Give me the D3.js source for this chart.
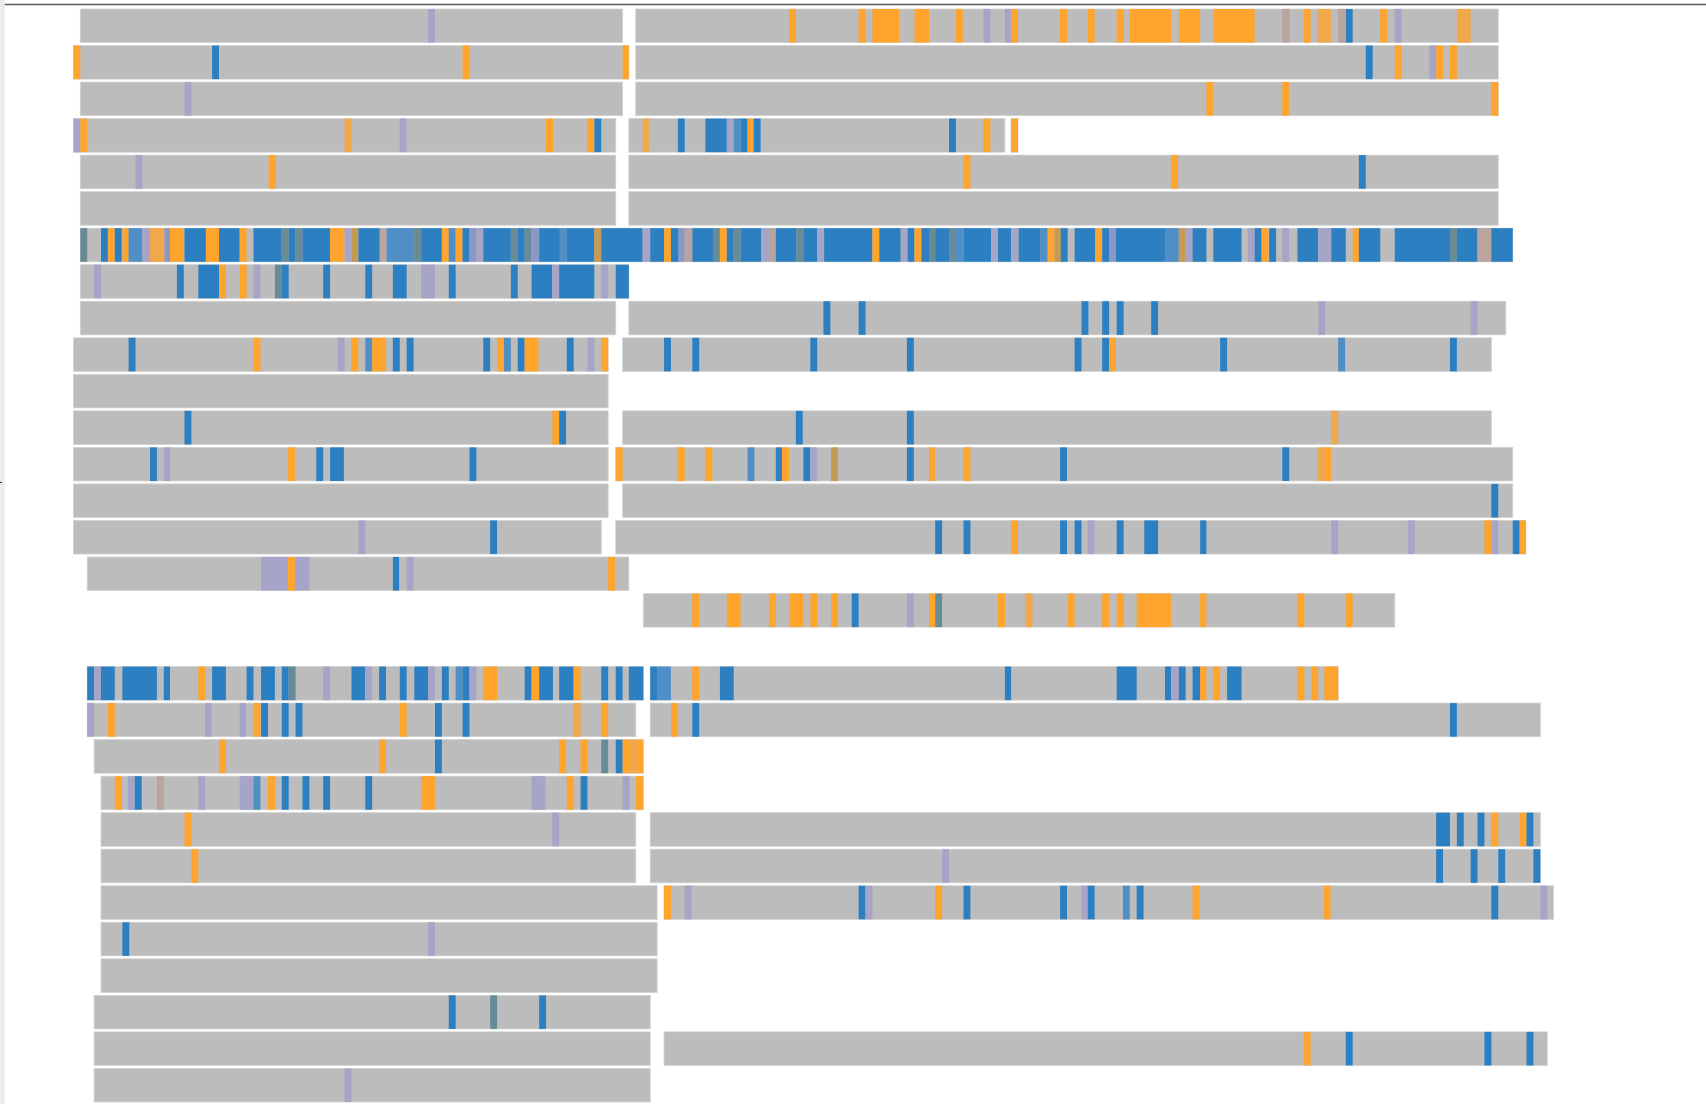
<!DOCTYPE html>
<html>
<head>
<meta charset="utf-8">
<script src="https://cdn.jsdelivr.net/npm/d3@7"></script>
<style>
  body { margin: 0; background: #fff; }
  svg { display: block; }
</style>
</head>
<body>
<div id="chartDiv"></div>
<script>
var W = 1706
var H = 1104

// row ids (row 17 is empty)
var rows = d3.range(30)

// feature categories and their colours
var categories = ["o", "O", "b", "B", "p", "t", "n", "r", "q"]
var catColors = ["#ffa42c", "#f0a84a", "#2c80c2", "#4f8fc6", "#a6a5c8", "#688b96", "#c69a55", "#b9a49e", "#8b97c4"]

// segments: [row, start, end] in bins
var segments = [
  [0, 1.0, 79.6], [0, 81.5, 206.5],
  [1, 0.0, 80.5], [1, 81.5, 206.5],
  [2, 1.0, 79.6], [2, 81.5, 206.5],
  [3, 0.0, 78.6], [3, 80.5, 135.0], [3, 135.9, 136.9],
  [4, 1.0, 78.6], [4, 80.5, 206.5],
  [5, 1.0, 78.6], [5, 80.5, 206.5],
  [6, 1.0, 208.6],
  [7, 1.0, 80.5],
  [8, 1.0, 78.6], [8, 80.5, 207.6],
  [9, 0.0, 77.5], [9, 79.6, 205.5],
  [10, 0.0, 77.5],
  [11, 0.0, 77.5], [11, 79.6, 205.5],
  [12, 0.0, 77.5], [12, 78.6, 208.6],
  [13, 0.0, 77.5], [13, 79.6, 208.6],
  [14, 0.0, 76.5], [14, 78.6, 210.5],
  [15, 2.0, 80.5],
  [16, 82.6, 191.5],
  [18, 2.0, 82.6], [18, 83.6, 183.3],
  [19, 2.0, 81.5], [19, 83.6, 212.6],
  [20, 3.0, 82.6],
  [21, 4.0, 82.6],
  [22, 4.0, 81.5], [22, 83.6, 212.6],
  [23, 4.0, 81.5], [23, 83.6, 212.6],
  [24, 4.0, 84.6], [24, 85.6, 214.5],
  [25, 4.0, 84.6],
  [26, 4.0, 84.6],
  [27, 3.0, 83.6],
  [28, 3.0, 83.6], [28, 85.6, 213.6],
  [29, 3.0, 83.6]
]

// features, upper block: [row, start, width, category]
var marksTop = [
  [0,51.4,1,"p"],[0,103.7,1,"o"],[0,113.8,1,"o"],[0,115.8,3.9,"o"],[0,121.9,2.1,"o"],[0,127.9,1,"o"],[0,131.9,1,"p"],
  [0,135.0,0.9,"p"],[0,135.9,1,"o"],[0,143.0,1,"o"],[0,147.0,1,"o"],[0,151.2,1,"o"],[0,153.1,6,"o"],[0,160.2,3.1,"o"],
  [0,165.2,6,"o"],[0,175.2,1.1,"r"],[0,178.3,1,"o"],[0,180.4,1.9,"O"],[0,183.3,1,"r"],[0,184.4,1,"b"],[0,189.4,1,"o"],
  [0,191.5,1,"p"],[0,200.5,2,"O"],
  [1,0,1,"o"],[1,20.1,1,"b"],[1,56.4,1,"o"],[1,79.6,0.9,"o"],[1,187.3,1,"b"],[1,191.5,1,"o"],[1,196.5,1,"p"],
  [1,197.5,1,"o"],[1,199.5,1,"o"],
  [2,16.1,1,"p"],[2,164.2,1,"o"],[2,175.2,1,"o"],[2,205.5,1,"o"],
  [3,0,1,"p"],[3,1,1,"o"],[3,39.3,1,"O"],[3,47.3,1,"p"],[3,68.5,1,"o"],[3,74.5,1,"o"],[3,75.5,1,"b"],[3,82.5,1,"O"],
  [3,87.6,1,"b"],[3,91.6,3.1,"b"],[3,94.7,1,"p"],[3,95.7,1,"B"],[3,96.7,1,"b"],[3,97.7,0.9,"o"],[3,98.6,1,"b"],
  [3,126.9,1,"b"],[3,131.9,1,"o"],[3,135.9,1,"o"],
  [4,9.0,1,"p"],[4,28.3,1,"o"],[4,129.0,1,"o"],[4,159.1,1,"o"],[4,186.3,1,"b"],
  [6,1,1,"t"],[6,4,1,"b"],[6,5,1,"o"],[6,6,1,"b"],[6,7.1,0.9,"o"],[6,8,2,"B"],[6,10,1.1,"p"],[6,11.1,2.1,"O"],
  [6,13.2,0.8,"q"],[6,14,2,"o"],[6,16.1,3.1,"b"],[6,19.2,1.9,"o"],[6,21.1,3,"b"],[6,24.1,1,"o"],[6,26.1,4.1,"b"],
  [6,30.2,1,"t"],[6,31.2,1,"b"],[6,32.2,1,"t"],[6,33.2,4,"b"],[6,37.2,2.1,"o"],[6,39.3,1,"p"],[6,40.3,1,"n"],
  [6,41.3,3.1,"b"],[6,44.4,1,"r"],[6,45.4,4,"B"],[6,49.4,1,"t"],[6,50.4,3,"b"],[6,53.4,1,"o"],[6,54.4,1,"B"],
  [6,55.4,1,"o"],[6,56.4,1,"b"],[6,57.4,1,"q"],[6,58.4,1,"p"],[6,59.4,4,"b"],[6,63.4,1,"t"],[6,64.4,1,"b"],
  [6,65.4,1,"t"],[6,66.4,1.1,"q"],[6,67.5,3,"b"],[6,70.5,1,"B"],[6,71.5,4,"b"],[6,75.5,1,"n"],[6,76.5,6,"b"],
  [6,82.5,1.1,"p"],[6,83.6,2,"b"],[6,85.6,1,"o"],[6,86.6,1.1,"b"],[6,87.7,0.9,"q"],[6,88.6,1.1,"r"],[6,89.7,3,"b"],
  [6,92.7,1,"t"],[6,93.7,1,"o"],[6,94.7,1,"b"],[6,95.7,1,"t"],[6,96.7,3,"b"],[6,99.7,1.1,"p"],[6,100.8,1,"r"],
  [6,101.8,3,"b"],[6,104.8,1,"t"],[6,105.8,2,"b"],[6,107.8,1,"p"],[6,108.8,7,"b"],[6,115.8,1,"o"],[6,116.8,3.1,"b"],
  [6,119.9,1,"p"],[6,120.9,1,"b"],[6,121.9,1,"o"],[6,122.9,1.1,"b"],[6,124.0,0.9,"t"],[6,124.9,2,"b"],[6,126.9,1,"t"],
  [6,127.9,1.1,"B"],[6,129.0,4,"b"],[6,133.0,1,"p"],[6,134.0,1.9,"b"],[6,135.9,1.1,"p"],[6,137.0,3.1,"b"],
  [6,140.1,1.1,"B"],[6,141.2,1,"o"],[6,142.2,0.9,"n"],[6,143.1,1,"b"],[6,145.1,3,"b"],[6,148.1,1,"o"],[6,149.1,1,"b"],
  [6,150.1,1,"q"],[6,151.1,7.1,"b"],[6,158.2,2,"B"],[6,160.2,1,"n"],[6,161.2,1,"p"],[6,162.2,2,"b"],[6,165.2,4.1,"b"],
  [6,170.2,1,"p"],[6,171.2,1,"b"],[6,172.2,1,"o"],[6,173.3,1,"b"],[6,175.2,1,"p"],[6,177.4,3,"b"],[6,180.4,1.9,"p"],
  [6,182.3,2.1,"b"],[6,185.4,0.9,"o"],[6,186.3,3.1,"b"],[6,191.5,8,"b"],[6,199.5,1,"t"],[6,200.5,3,"b"],[6,203.5,2,"r"],
  [6,205.5,3.1,"b"],
  [7,3,1,"p"],[7,15,1,"b"],[7,18.1,3,"b"],[7,21.1,1,"o"],[7,24.1,1,"o"],[7,26.1,1,"p"],[7,29.2,1,"t"],[7,30.2,1,"b"],
  [7,36.2,1,"b"],[7,42.3,1,"b"],[7,46.3,2,"b"],[7,50.4,2,"p"],[7,54.4,1,"b"],[7,63.4,1,"b"],[7,66.4,3,"b"],
  [7,69.4,1,"p"],[7,70.4,5.1,"b"],[7,76.5,1,"p"],[7,78.6,1.9,"b"],
  [8,108.7,1,"b"],[8,113.8,1,"b"],[8,146.1,1,"b"],[8,149.1,1,"b"],[8,151.2,1,"b"],[8,156.2,1,"b"],[8,180.4,1,"p"],
  [8,202.5,1,"p"],
  [9,8,1,"b"],[9,26.1,1,"o"],[9,38.3,1,"p"],[9,40.3,1,"o"],[9,42.3,1,"B"],[9,43.3,2,"o"],[9,46.3,1,"b"],[9,48.3,1,"b"],
  [9,59.4,1,"b"],[9,61.4,1,"o"],[9,62.4,1,"B"],[9,64.4,1,"b"],[9,65.4,2,"o"],[9,71.5,1,"b"],[9,74.5,1,"p"],
  [9,76.5,1,"o"],[9,85.6,1,"b"],[9,89.7,1,"b"],[9,106.8,1,"b"],[9,120.8,1,"b"],[9,145.1,1,"b"],[9,149.1,1,"b"],
  [9,150.1,1,"o"],[9,166.2,1,"b"],[9,183.3,1,"B"],[9,199.5,1,"b"],
  [11,16.1,1,"b"],[11,69.4,1,"o"],[11,70.4,1,"b"],[11,104.7,1,"b"],[11,120.8,1,"b"],[11,182.3,1,"O"],
  [12,11.1,1,"b"],[12,13.1,0.9,"p"],[12,31.1,1,"o"],[12,35.2,1,"b"],[12,37.2,2,"b"],[12,57.4,1,"b"],[12,78.6,1,"o"],
  [12,87.6,1,"o"],[12,91.6,1,"o"],[12,97.7,1,"B"],[12,101.8,0.9,"b"],[12,102.7,1,"o"],[12,105.8,1,"b"],[12,106.8,1,"p"],
  [12,109.8,1,"n"],[12,120.8,1,"b"],[12,124.0,0.9,"o"],[12,129.0,1,"o"],[12,143.0,1,"b"],[12,175.2,1,"b"],
  [12,180.4,0.9,"O"],[12,181.3,1,"o"],
  [13,205.5,1,"b"],
  [14,41.3,1,"p"],[14,60.4,1,"b"],[14,124.9,1,"b"],[14,129.0,1,"b"],[14,135.9,1,"o"],[14,143.0,1,"b"],[14,145.1,1,"b"],
  [14,147.0,1,"p"],[14,151.2,1,"b"],[14,155.2,2,"b"],[14,163.3,0.9,"b"],[14,182.3,1,"p"],[14,193.4,1,"p"],
  [14,204.5,1,"o"],[14,205.5,1,"p"],[14,208.6,1,"b"],[14,209.6,0.9,"o"],
  [15,27.2,3.9,"p"],[15,31.1,1,"o"],[15,32.1,2.1,"p"],[15,46.3,0.9,"b"],[15,48.3,1,"p"],[15,77.5,1,"o"],
  [16,89.7,1,"o"],[16,94.7,2,"o"],[16,100.8,1,"o"],[16,103.8,2,"o"],[16,106.8,1,"o"],[16,109.8,1,"o"],[16,112.8,1,"b"],
  [16,120.8,1,"p"],[16,124.0,0.9,"o"],[16,124.9,1,"t"],[16,134.0,1,"o"],[16,138.0,1,"O"],[16,144.1,1,"o"],
  [16,149.1,1,"o"],[16,151.2,1,"o"],[16,154.1,5,"o"],[16,163.3,0.9,"o"],[16,177.4,1,"o"],[16,184.4,1,"o"]
]

// features, lower block
var marksBottom = [
  [18,2,1,"b"],[18,3,1,"p"],[18,4,2,"b"],[18,7.1,5,"b"],[18,13.1,0.9,"b"],[18,18.1,1,"o"],[18,20.1,2,"b"],[18,25.1,1,"b"],
  [18,27.2,2,"b"],[18,30.2,1,"b"],[18,31.2,1,"t"],[18,36.2,1,"p"],[18,40.3,2,"b"],[18,42.3,1,"p"],[18,44.3,1,"b"],
  [18,47.3,1,"b"],[18,49.4,2,"b"],[18,51.4,1,"p"],[18,53.4,1,"b"],[18,55.4,1,"B"],[18,56.4,1,"b"],[18,57.4,1,"p"],
  [18,59.4,2,"o"],[18,65.4,1,"b"],[18,66.4,1.1,"o"],[18,67.5,2,"b"],[18,70.4,2.1,"b"],[18,72.5,1,"o"],[18,76.5,1,"b"],
  [18,78.6,1,"b"],[18,80.5,2.1,"b"],[18,83.6,1,"b"],[18,84.6,2,"B"],[18,89.7,1,"o"],[18,93.7,2,"b"],[18,135.0,0.9,"b"],
  [18,151.2,2.9,"b"],[18,158.2,0.9,"b"],[18,159.1,1.1,"p"],[18,160.2,1,"b"],[18,162.2,1.1,"b"],[18,163.3,0.9,"o"],
  [18,165.2,1,"o"],[18,167.2,2.1,"b"],[18,177.4,1,"o"],[18,179.4,1,"o"],[18,181.3,2,"o"],
  [19,2,1,"p"],[19,5,1,"o"],[19,19.1,0.9,"p"],[19,24.1,0.9,"p"],[19,26.1,1,"o"],[19,27.2,1,"b"],[19,30.2,1,"b"],
  [19,32.2,1,"b"],[19,47.3,1,"o"],[19,52.4,1,"b"],[19,56.4,1,"b"],[19,72.5,1,"O"],[19,76.5,1,"o"],[19,86.6,1,"o"],
  [19,89.7,1,"b"],[19,199.5,1,"b"],
  [20,21.1,1,"o"],[20,44.3,1,"o"],[20,52.4,1,"b"],[20,70.4,1,"o"],[20,73.5,1,"o"],[20,76.5,1,"t"],[20,78.6,1,"b"],
  [20,79.6,1,"o"],[20,80.6,1,"O"],[20,81.6,1,"o"],
  [21,6,1,"o"],[21,7.9,1,"p"],[21,8.9,1,"b"],[21,12.1,1,"r"],[21,18.1,1,"p"],[21,24.1,2,"p"],[21,26.1,1,"B"],
  [21,28.2,1,"o"],[21,30.2,1,"b"],[21,33.2,1,"b"],[21,36.2,1,"b"],[21,42.3,1,"b"],[21,50.4,2,"o"],[21,66.4,2,"p"],
  [21,71.5,1,"o"],[21,73.5,1,"b"],[21,79.6,1,"p"],[21,81.5,1.1,"o"],
  [22,16.1,1,"o"],[22,69.4,1,"p"],[22,197.5,2,"b"],[22,200.5,1,"b"],[22,203.5,1,"b"],[22,205.5,1,"o"],[22,209.6,1,"o"],
  [22,210.6,1,"b"],
  [23,17.1,1,"o"],[23,125.9,1,"p"],[23,197.5,1,"b"],[23,202.5,1,"b"],[23,206.5,1,"b"],[23,211.6,1,"b"],
  [24,85.6,1,"o"],[24,88.6,1,"p"],[24,113.8,1,"b"],[24,114.8,1,"p"],[24,124.9,1,"o"],[24,129.0,1,"b"],[24,143.0,1,"b"],
  [24,146.1,0.9,"p"],[24,147.0,1,"b"],[24,152.1,1,"B"],[24,154.1,1,"b"],[24,162.2,1,"o"],[24,181.2,1,"o"],
  [24,205.5,1,"b"],[24,212.6,1,"p"],
  [25,7.1,1,"b"],[25,51.4,1,"p"],
  [27,54.4,1,"b"],[27,60.4,1,"t"],[27,67.5,1,"b"],
  [28,178.3,1,"o"],[28,184.4,1,"b"],[28,204.5,1,"b"],[28,210.6,1,"b"],
  [29,39.3,1,"p"]
]

var marks = marksTop.concat(marksBottom)

// scales
var xScale = d3.scaleLinear().domain([0, 220]).range([73.4, 73.4 + 220 * 6.9])
var yScale = d3.scaleBand().domain(rows).range([9, 1102]).paddingInner(0.08)
var colorScale = d3.scaleOrdinal().domain(categories).range(catColors)

var svg = d3.select("#chartDiv")
    .append("svg")
    .attr("width", W)
    .attr("height", H)

// page frame bits: left strip and top rule
svg.append("rect")
    .attr("x", 0).attr("y", 0)
    .attr("width", 4.7).attr("height", H)
    .attr("fill", "#ececec")

svg.append("line")
    .attr("x1", 4.7).attr("x2", W)
    .attr("y1", 4.5).attr("y2", 4.5)
    .attr("stroke", "#5a5a5a")
    .attr("stroke-width", 1.5)

svg.append("line")
    .attr("x1", 0).attr("x2", 2)
    .attr("y1", 482.5).attr("y2", 482.5)
    .attr("stroke", "#222")

// gray segments
svg.append("g")
    .selectAll(".seg")
    .data(segments)
    .enter()
    .append("rect")
    .attr("class", "seg")
    .attr("x", function(d) { return xScale(d[1]) })
    .attr("y", function(d) { return yScale(d[0]) })
    .attr("width", function(d) { return xScale(d[2]) - xScale(d[1]) })
    .attr("height", yScale.bandwidth())
    .attr("fill", "#bcbcbc")
    .attr("stroke", "#d2d2d2")
    .attr("stroke-width", 0.8)

// coloured features
svg.append("g")
    .selectAll(".mark")
    .data(marks)
    .enter()
    .append("rect")
    .attr("class", "mark")
    .attr("x", function(d) { return xScale(d[1]) })
    .attr("y", function(d) { return yScale(d[0]) })
    .attr("width", function(d) { return xScale(d[1] + d[2]) - xScale(d[1]) })
    .attr("height", yScale.bandwidth())
    .attr("fill", function(d) { return colorScale(d[3]) })
</script>
